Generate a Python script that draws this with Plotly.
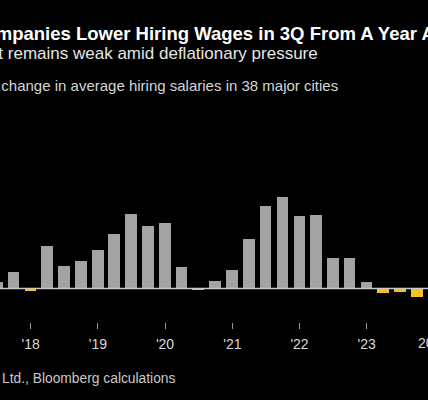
import plotly.graph_objects as go
import pandas as pd

# ---- data ----
quarters = ["2017-06-30", "2017-09-30", "2017-12-31",
            "2018-03-31", "2018-06-30", "2018-09-30", "2018-12-31",
            "2019-03-31", "2019-06-30", "2019-09-30", "2019-12-31",
            "2020-03-31", "2020-06-30", "2020-09-30", "2020-12-31",
            "2021-03-31", "2021-06-30", "2021-09-30", "2021-12-31",
            "2022-03-31", "2022-06-30", "2022-09-30", "2022-12-31",
            "2023-03-31", "2023-06-30", "2023-09-30"]
yoy_change = [0.63, 1.7, -0.27,
              4.27, 2.27, 2.77, 3.83,
              5.47, 7.43, 6.23, 6.6,
              2.17, -0.1, 0.8, 1.9,
              4.97, 8.3, 9.13, 7.23,
              7.33, 3.03, 3.03, 0.63,
              -0.47, -0.3, -0.87]
tick_dates = ["2018-01-01", "2019-01-01", "2020-01-01", "2021-01-01",
              "2022-01-01", "2023-01-01"]
tick_labels = ["'18", "'19", "'20", "'21", "'22", "'23"]
last_tick_date = "2024-01-01"
last_tick_label = "2024"

title = "Chinese Companies Lower Hiring Wages in 3Q From A Year Ago"
subtitle = "Job market remains weak amid deflationary pressure"
note = "Year-on-year change in average hiring salaries in 38 major cities"
source = "Source: Zhaopin Ltd., Bloomberg calculations"

# ---- layout geometry ----
W, H = 428, 400
PLOT_BOTTOM = 322          # px from top where x axis sits
PX_PER_DAY = 0.18401
FIRST_TICK_PX = 30.7
BASE_PX = 288.5
PX_PER_UNIT = 10.0

x0 = pd.Timestamp(tick_dates[0]) - pd.Timedelta(days=FIRST_TICK_PX / PX_PER_DAY)
x1 = x0 + pd.Timedelta(days=W / PX_PER_DAY)
y_top = BASE_PX / PX_PER_UNIT
y_bot = -(PLOT_BOTTOM - BASE_PX) / PX_PER_UNIT

def xp(px):
    return px / W

def yp(py):
    return 1 - py / PLOT_BOTTOM

GRAY = "#a3a3a3"
YELLOW = "#f5c01f"
FONT = "Liberation Sans, Arial, sans-serif"
TICK_FONT = dict(family=FONT, size=14, color="#d9d9d9")

colors = [GRAY if v >= 0 else YELLOW for v in yoy_change]

fig = go.Figure(go.Bar(
    x=pd.to_datetime(quarters), y=yoy_change,
    marker=dict(color=colors, line=dict(width=0)),
    width=63.6 * 86400000,
    hoverinfo="x+y",
))

last_px = FIRST_TICK_PX + (pd.Timestamp(last_tick_date) - pd.Timestamp(tick_dates[0])).days * PX_PER_DAY

fig.update_layout(
    width=W, height=H,
    margin=dict(l=0, r=0, t=0, b=H - PLOT_BOTTOM, pad=0),
    paper_bgcolor="#000000", plot_bgcolor="#000000",
    showlegend=False,
    bargap=0,
    xaxis=dict(
        type="date", range=[x0, x1],
        tickvals=pd.to_datetime(tick_dates), ticktext=tick_labels,
        ticks="outside", ticklen=6, tickwidth=1, tickcolor="#9a9a9a",
        ticklabelstandoff=3,
        showgrid=False, zeroline=False, showline=False,
        tickfont=TICK_FONT,
    ),
    yaxis=dict(range=[y_bot, y_top], visible=False, showgrid=False, zeroline=False),
    shapes=[dict(type="line", xref="paper", x0=0, x1=1, yref="y", y0=0, y1=0,
                 line=dict(color="#c8c8c8", width=1.5), layer="above")],
    annotations=[
        dict(text="<b>" + title + "</b>", x=xp(-108), y=yp(33), xref="paper", yref="paper",
             xanchor="left", yanchor="middle", showarrow=False,
             font=dict(family=FONT, size=18.5, color="#ffffff")),
        dict(text=subtitle, x=xp(-83), y=yp(54), xref="paper", yref="paper",
             xanchor="left", yanchor="middle", showarrow=False,
             font=dict(family=FONT, size=17, color="#e6e6e6")),
        dict(text=note, x=xp(-90.7), y=yp(85), xref="paper", yref="paper",
             xanchor="left", yanchor="middle", showarrow=False,
             font=dict(family=FONT, size=15, color="#d6d6d6")),
        dict(text=source, x=xp(-105), y=yp(378), xref="paper", yref="paper",
             xanchor="left", yanchor="middle", showarrow=False,
             font=dict(family=FONT, size=13.8, color="#c8c8c8")),
        dict(text=last_tick_label, x=xp(last_px), y=yp(343), xref="paper", yref="paper",
             xanchor="center", yanchor="middle", showarrow=False,
             font=TICK_FONT),
    ],
)

fig.write_html(
    "out.html",
    config={"displayModeBar": False},
    post_script="document.body.style.margin='0';document.body.style.padding='0';"
                "document.body.style.background='#000';document.body.style.overflow='hidden';",
)
